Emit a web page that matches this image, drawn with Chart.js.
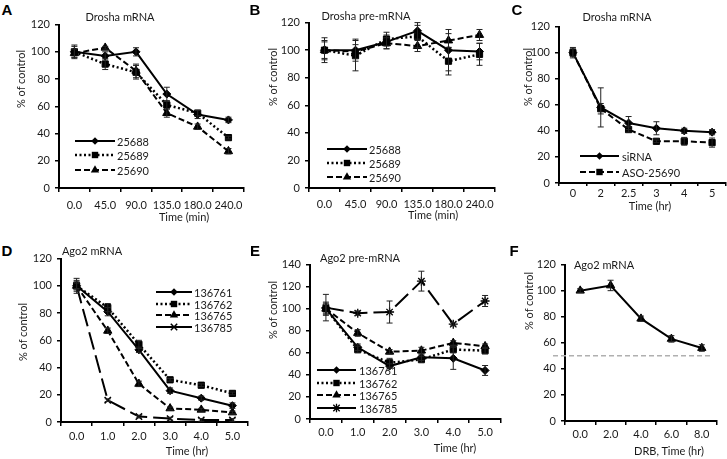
<!DOCTYPE html>
<html><head><meta charset="utf-8">
<script src="https://cdn.jsdelivr.net/npm/chart.js@4.4.1/dist/chart.umd.min.js"></script>
<style>
html,body{margin:0;padding:0;background:#fff;}
body{width:727px;height:459px;position:relative;overflow:hidden;font-family:Lato,"Open Sans",sans-serif;color:#1a1a1a;}
.box{position:absolute;}
.t{position:absolute;font-size:11px;line-height:1;white-space:nowrap;transform:translate(-50%,-50%);}
.yt{position:absolute;font-size:11px;line-height:1;white-space:nowrap;transform:translate(-50%,-50%) rotate(-90deg);}
.letter{position:absolute;font:bold 15px "Liberation Sans",Arial,sans-serif;line-height:1;transform:translate(-50%,-50%);color:#000;}
.lg{position:absolute;}
.lt{position:absolute;font-size:11px;line-height:1;white-space:nowrap;transform:translateY(-50%);}
</style></head>
<body>
<script>
// ---------------- DATA ----------------
// Panel A: Drosha mRNA (Time, min)
const catA = ['0.0','45.0','90.0','135.0','180.0','240.0'];
const a25688 = [100, 97, 100, 69, 54, 50];
const a25688Err = [5, 3, 3, 5, 3, 2];
const a25689 = [100, 91, 85, 61, 55, 37];
const a25689Err = [4, 4, 5, 3, 2, 1];
const a25690 = [99, 103, 86, 55, 45, 27];
const a25690Err = [3, 1, 5, 3, 2, 2];

// Panel B: Drosha pre-mRNA (Time, min)
const catB = ['0.0','45.0','90.0','135.0','180.0','240.0'];
const b25688 = [100, 100, 106, 114, 100, 99];
const b25688Err = [9, 8, 5, 6, 15, 6];
const b25689 = [100, 96, 108, 110, 92, 97];
const b25689Err = [7, 11, 5, 8, 10, 8];
const b25690 = [100, 99, 105, 103, 107, 111];
const b25690Err = [6, 5, 4, 4, 5, 4];

// Panel C: Drosha mRNA (Time, hr)
const catC = ['0','2','2.5','3','4','5'];
const cSiRNA = [100, 58, 46, 42, 40, 39];
const cSiRNAErr = [4, 15, 5, 5, 2, 2];
const cASO = [100, 57, 41, 32, 32, 31];
const cASOErr = [3, 4, 2, 1, 3, 3.5];

// Panel D: Ago2 mRNA (Time, hr)
const catD = ['0.0','1.0','2.0','3.0','4.0','5.0'];
const d136761 = [100, 81, 53, 23, 17.5, 12];
const d136761Err = [4, 3, 2, 2, 1.5, 2];
const d136762 = [100, 84, 57, 31, 27, 21];
const d136762Err = [5.5, 3, 3, 1, 1, 1];
const d136765 = [100, 67, 28, 10, 9, 7];
const d136765Err = [3, 2, 2, 1, 1, 1];
const d136785 = [100, 16, 4, 2.5, 1.5, 1.5];
const d136785Err = [2, 1, 1, 1, 1, 1];

// Panel E: Ago2 pre-mRNA (Time, hr)
const catE = ['0.0','1.0','2.0','3.0','4.0','5.0'];
const e136761 = [100, 65, 48, 56, 55, 44];
const e136761Err = [4, 3, 2, 3, 10, 4.5];
const e136762 = [100, 63, 51, 54, 63, 62];
const e136762Err = [6, 3, 4, 3, 3, 3];
const e136765 = [100, 78, 61, 62, 69, 66];
const e136765Err = [5, 3, 2, 3, 2, 2];
const e136785 = [101, 96, 97, 125, 86, 107];
const e136785Err = [12, 2, 10, 9, 1.5, 5];

// Panel F: Ago2 mRNA (DRB, Time, hr)
const catF = ['0.0','2.0','4.0','6.0','8.0'];
const fAgo2 = [100, 104, 78.5, 63, 56];
const fAgo2Err = [1.5, 4, 2, 2.5, 2.5];
const fThreshold = 50;

// ---------------- STYLES ----------------
Chart.defaults.font.family = 'Lato, "Open Sans", sans-serif';
Chart.defaults.font.size = 11;
Chart.defaults.color = '#1a1a1a';
Chart.defaults.animation = false;

const LINES = {
  solid:   {w: 2,   dash: [],      svg: ''},
  dotted:  {w: 2.5, dash: [2, 2.5], svg: '2 2.5'},
  dashed:  {w: 2,   dash: [6, 3],  svg: '6 3'},
  longdash:{w: 2,   dash: [18, 6], svg: '15 4'}
};
const MARKERS = {
  diamond: {style: 'rectRot',  r: 4,   bw: 1},
  square:  {style: 'rect',     r: 4.4, bw: 1},
  triangle:{style: 'triangle', r: 4.8, bw: 1},
  x:       {style: 'crossRot', r: 4.5, bw: 1.5},
  star:    {style: 'star',     r: 4.5, bw: 1.3}
};

function ds(label, data, errors, line, marker) {
  const L = LINES[line], M = MARKERS[marker];
  return {label, data, errors, borderColor: '#000', backgroundColor: '#000',
    borderWidth: L.w, borderDash: L.dash, tension: 0, fill: false,
    pointStyle: M.style, pointRadius: M.r, pointBorderWidth: M.bw,
    pointBackgroundColor: '#000', pointBorderColor: '#000'};
}

const errorBars = {
  id: 'errorBars',
  afterDatasetsDraw(chart) {
    const ctx = chart.ctx, ys = chart.scales.y;
    chart.data.datasets.forEach((d, i) => {
      if (!d.errors) return;
      const meta = chart.getDatasetMeta(i);
      ctx.save();
      ctx.strokeStyle = '#222'; ctx.lineWidth = 1; ctx.setLineDash([]);
      meta.data.forEach((pt, j) => {
        const e = d.errors[j]; if (!e) return;
        const v = d.data[j];
        const y1 = ys.getPixelForValue(v + e), y2 = ys.getPixelForValue(v - e);
        ctx.beginPath();
        ctx.moveTo(pt.x, y1); ctx.lineTo(pt.x, y2);
        ctx.moveTo(pt.x - 3, y1); ctx.lineTo(pt.x + 3, y1);
        ctx.moveTo(pt.x - 3, y2); ctx.lineTo(pt.x + 3, y2);
        ctx.stroke();
      });
      ctx.restore();
    });
  }
};

const thresholdLine = {
  id: 'thresholdLine',
  beforeDatasetsDraw(chart) {
    const ctx = chart.ctx, a = chart.chartArea;
    const y = chart.scales.y.getPixelForValue(fThreshold);
    ctx.save();
    ctx.strokeStyle = '#b0b0b0'; ctx.lineWidth = 1.5; ctx.setLineDash([5, 3]);
    ctx.beginPath(); ctx.moveTo(a.left - 12, y); ctx.lineTo(a.right - 4, y); ctx.stroke();
    ctx.restore();
  }
};

function panel(p) {
  const YW = 34, XH = 28, PT = 10, PR = 6;
  const div = document.createElement('div');
  div.className = 'box';
  div.style.left = (p.axisX - YW) + 'px';
  div.style.top = (p.top - PT) + 'px';
  div.style.width = (p.right - p.axisX + YW + PR) + 'px';
  div.style.height = (p.bottom - p.top + PT + XH) + 'px';
  const cv = document.createElement('canvas');
  div.appendChild(cv);
  document.body.appendChild(div);
  new Chart(cv, {
    type: 'line',
    data: {labels: p.labels, datasets: p.datasets},
    options: {
      responsive: true, maintainAspectRatio: false, animation: false,
      layout: {padding: {top: PT, right: PR, left: 0, bottom: 0}},
      plugins: {legend: {display: false}, tooltip: {enabled: false}},
      scales: {
        x: {type: 'category', offset: true,
          grid: {display: true, offset: true, drawOnChartArea: false, drawTicks: true, tickLength: p.xTick || 4, color: '#000', lineWidth: 1.5},
          border: {display: true, color: '#000', width: 2},
          ticks: {padding: p.xPad !== undefined ? p.xPad : 4, maxRotation: 0, autoSkip: false, color: '#1a1a1a'},
          afterFit: s => { s.height = XH; }},
        y: {min: 0, max: p.yMax,
          grid: {display: true, drawOnChartArea: false, drawTicks: true, tickLength: 4, color: '#000', lineWidth: 1.5},
          border: {display: true, color: '#000', width: 2},
          ticks: {stepSize: 20, padding: 5, color: '#1a1a1a'},
          afterFit: s => { s.width = YW; }}
      }
    },
    plugins: [errorBars].concat(p.plugins || [])
  });
}

function text(cls, x, y, s) {
  const d = document.createElement('div');
  d.className = cls; d.style.left = x + 'px'; d.style.top = y + 'px'; d.textContent = s;
  document.body.appendChild(d);
}

function markerSvg(m, cx, cy) {
  switch (m) {
    case 'diamond': return `<polygon points="${cx},${cy-3.8} ${cx+3.8},${cy} ${cx},${cy+3.8} ${cx-3.8},${cy}" fill="#000"/>`;
    case 'square': return `<rect x="${cx-3.2}" y="${cy-3.2}" width="6.4" height="6.4" fill="#000"/>`;
    case 'triangle': return `<polygon points="${cx},${cy-4.8} ${cx+4.2},${cy+2.5} ${cx-4.2},${cy+2.5}" fill="#000"/>`;
    case 'x': return `<path d="M${cx-3.2},${cy-3.2}L${cx+3.2},${cy+3.2}M${cx-3.2},${cy+3.2}L${cx+3.2},${cy-3.2}" stroke="#000" stroke-width="1.5"/>`;
    case 'star': return `<path d="M${cx-3.2},${cy-3.2}L${cx+3.2},${cy+3.2}M${cx-3.2},${cy+3.2}L${cx+3.2},${cy-3.2}M${cx},${cy-4.2}L${cx},${cy+4.2}" stroke="#000" stroke-width="1.3"/>`;
  }
  return '';
}

function legend(x0, x1, tx, rows) {
  rows.forEach(r => {
    const w = x1 - x0, L = LINES[r.line];
    const s = document.createElementNS('http://www.w3.org/2000/svg', 'svg');
    s.setAttribute('width', w); s.setAttribute('height', 12);
    s.setAttribute('class', 'lg');
    s.style.left = x0 + 'px'; s.style.top = (r.y - 6) + 'px';
    const cx = w / 2;
    s.innerHTML = `<line x1="0" y1="6" x2="${w}" y2="6" stroke="#000" stroke-width="${L.w}" ${L.svg ? `stroke-dasharray="${L.svg}"` : ''}/>` + markerSvg(r.marker, cx, 6);
    document.body.appendChild(s);
    text('lt', tx, r.y, r.text);
  });
}

// ---------------- PANELS ----------------
panel({axisX: 59, right: 244, top: 23, bottom: 188, yMax: 120, labels: catA, xPad: 7, datasets: [
  ds('25688', a25688, a25688Err, 'solid', 'diamond'),
  ds('25689', a25689, a25689Err, 'dotted', 'square'),
  ds('25690', a25690, a25690Err, 'dashed', 'triangle')]});
panel({axisX: 309, right: 495, top: 21, bottom: 188, yMax: 120, labels: catB, xPad: 6, datasets: [
  ds('25688', b25688, b25688Err, 'solid', 'diamond'),
  ds('25689', b25689, b25689Err, 'dotted', 'square'),
  ds('25690', b25690, b25690Err, 'dashed', 'triangle')]});
panel({axisX: 559, right: 726, top: 25, bottom: 183, yMax: 120, labels: catC, xPad: 1, xTick: 3, datasets: [
  ds('siRNA', cSiRNA, cSiRNAErr, 'solid', 'diamond'),
  ds('ASO-25690', cASO, cASOErr, 'dashed', 'square')]});
panel({axisX: 61, right: 248, top: 257, bottom: 422, yMax: 120, labels: catD, xPad: 4, datasets: [
  ds('136761', d136761, d136761Err, 'solid', 'diamond'),
  ds('136762', d136762, d136762Err, 'dotted', 'square'),
  ds('136765', d136765, d136765Err, 'dashed', 'triangle'),
  ds('136785', d136785, d136785Err, 'longdash', 'x')]});
panel({axisX: 310, right: 501, top: 263, bottom: 419, yMax: 140, labels: catE, xPad: 3, datasets: [
  ds('136761', e136761, e136761Err, 'solid', 'diamond'),
  ds('136762', e136762, e136762Err, 'dotted', 'square'),
  ds('136765', e136765, e136765Err, 'dashed', 'triangle'),
  ds('136785', e136785, e136785Err, 'longdash', 'star')]});
panel({axisX: 565, right: 717, top: 263, bottom: 421, yMax: 120, labels: catF, xPad: 3, plugins: [thresholdLine], datasets: [
  ds('Ago2', fAgo2, fAgo2Err, 'solid', 'triangle')]});

// ---------------- TEXT ----------------
text('letter', 7, 8.5, 'A'); text('letter', 255, 8.5, 'B'); text('letter', 517, 8.5, 'C');
text('letter', 7, 250, 'D'); text('letter', 255, 250, 'E'); text('letter', 514, 250, 'F');

text('t', 120, 16, 'Drosha mRNA');
text('t', 366, 15, 'Drosha pre-mRNA');
text('t', 617, 16, 'Drosha mRNA');
text('t', 92, 250, 'Ago2 mRNA');
text('t', 360, 257, 'Ago2 pre-mRNA');
text('t', 604, 264, 'Ago2 mRNA');

text('yt', 20, 79, '% of control');
text('yt', 272, 77, '% of control');
text('yt', 527, 77, '% of control');
text('yt', 22, 332, '% of control');
text('yt', 272, 310, '% of control');
text('yt', 528, 301, '% of control');

text('t', 184, 216, 'Time (min)');
text('t', 433, 214, 'Time (min)');
text('t', 650, 205, 'Time (hr)');
text('t', 187, 450, 'Time (hr)');
text('t', 455, 447, 'Time (hr)');
text('t', 669, 450, 'DRB, Time (hr)');

legend(75, 115, 117, [
  {y: 141, line: 'solid', marker: 'diamond', text: '25688'},
  {y: 155, line: 'dotted', marker: 'square', text: '25689'},
  {y: 170, line: 'dashed', marker: 'triangle', text: '25690'}]);
legend(327, 367, 369, [
  {y: 149, line: 'solid', marker: 'diamond', text: '25688'},
  {y: 163, line: 'dotted', marker: 'square', text: '25689'},
  {y: 177, line: 'dashed', marker: 'triangle', text: '25690'}]);
legend(580, 619, 622, [
  {y: 156, line: 'solid', marker: 'diamond', text: 'siRNA'},
  {y: 172, line: 'dashed', marker: 'square', text: 'ASO-25690'}]);
legend(156, 192, 194, [
  {y: 292, line: 'solid', marker: 'diamond', text: '136761'},
  {y: 303.5, line: 'dotted', marker: 'square', text: '136762'},
  {y: 315, line: 'dashed', marker: 'triangle', text: '136765'},
  {y: 327, line: 'solid', marker: 'x', text: '136785'}]);
legend(317, 356, 359, [
  {y: 370, line: 'solid', marker: 'diamond', text: '136761'},
  {y: 382.5, line: 'dotted', marker: 'square', text: '136762'},
  {y: 395, line: 'dashed', marker: 'triangle', text: '136765'},
  {y: 407.5, line: 'solid', marker: 'star', text: '136785'}]);
</script>
</body></html>
